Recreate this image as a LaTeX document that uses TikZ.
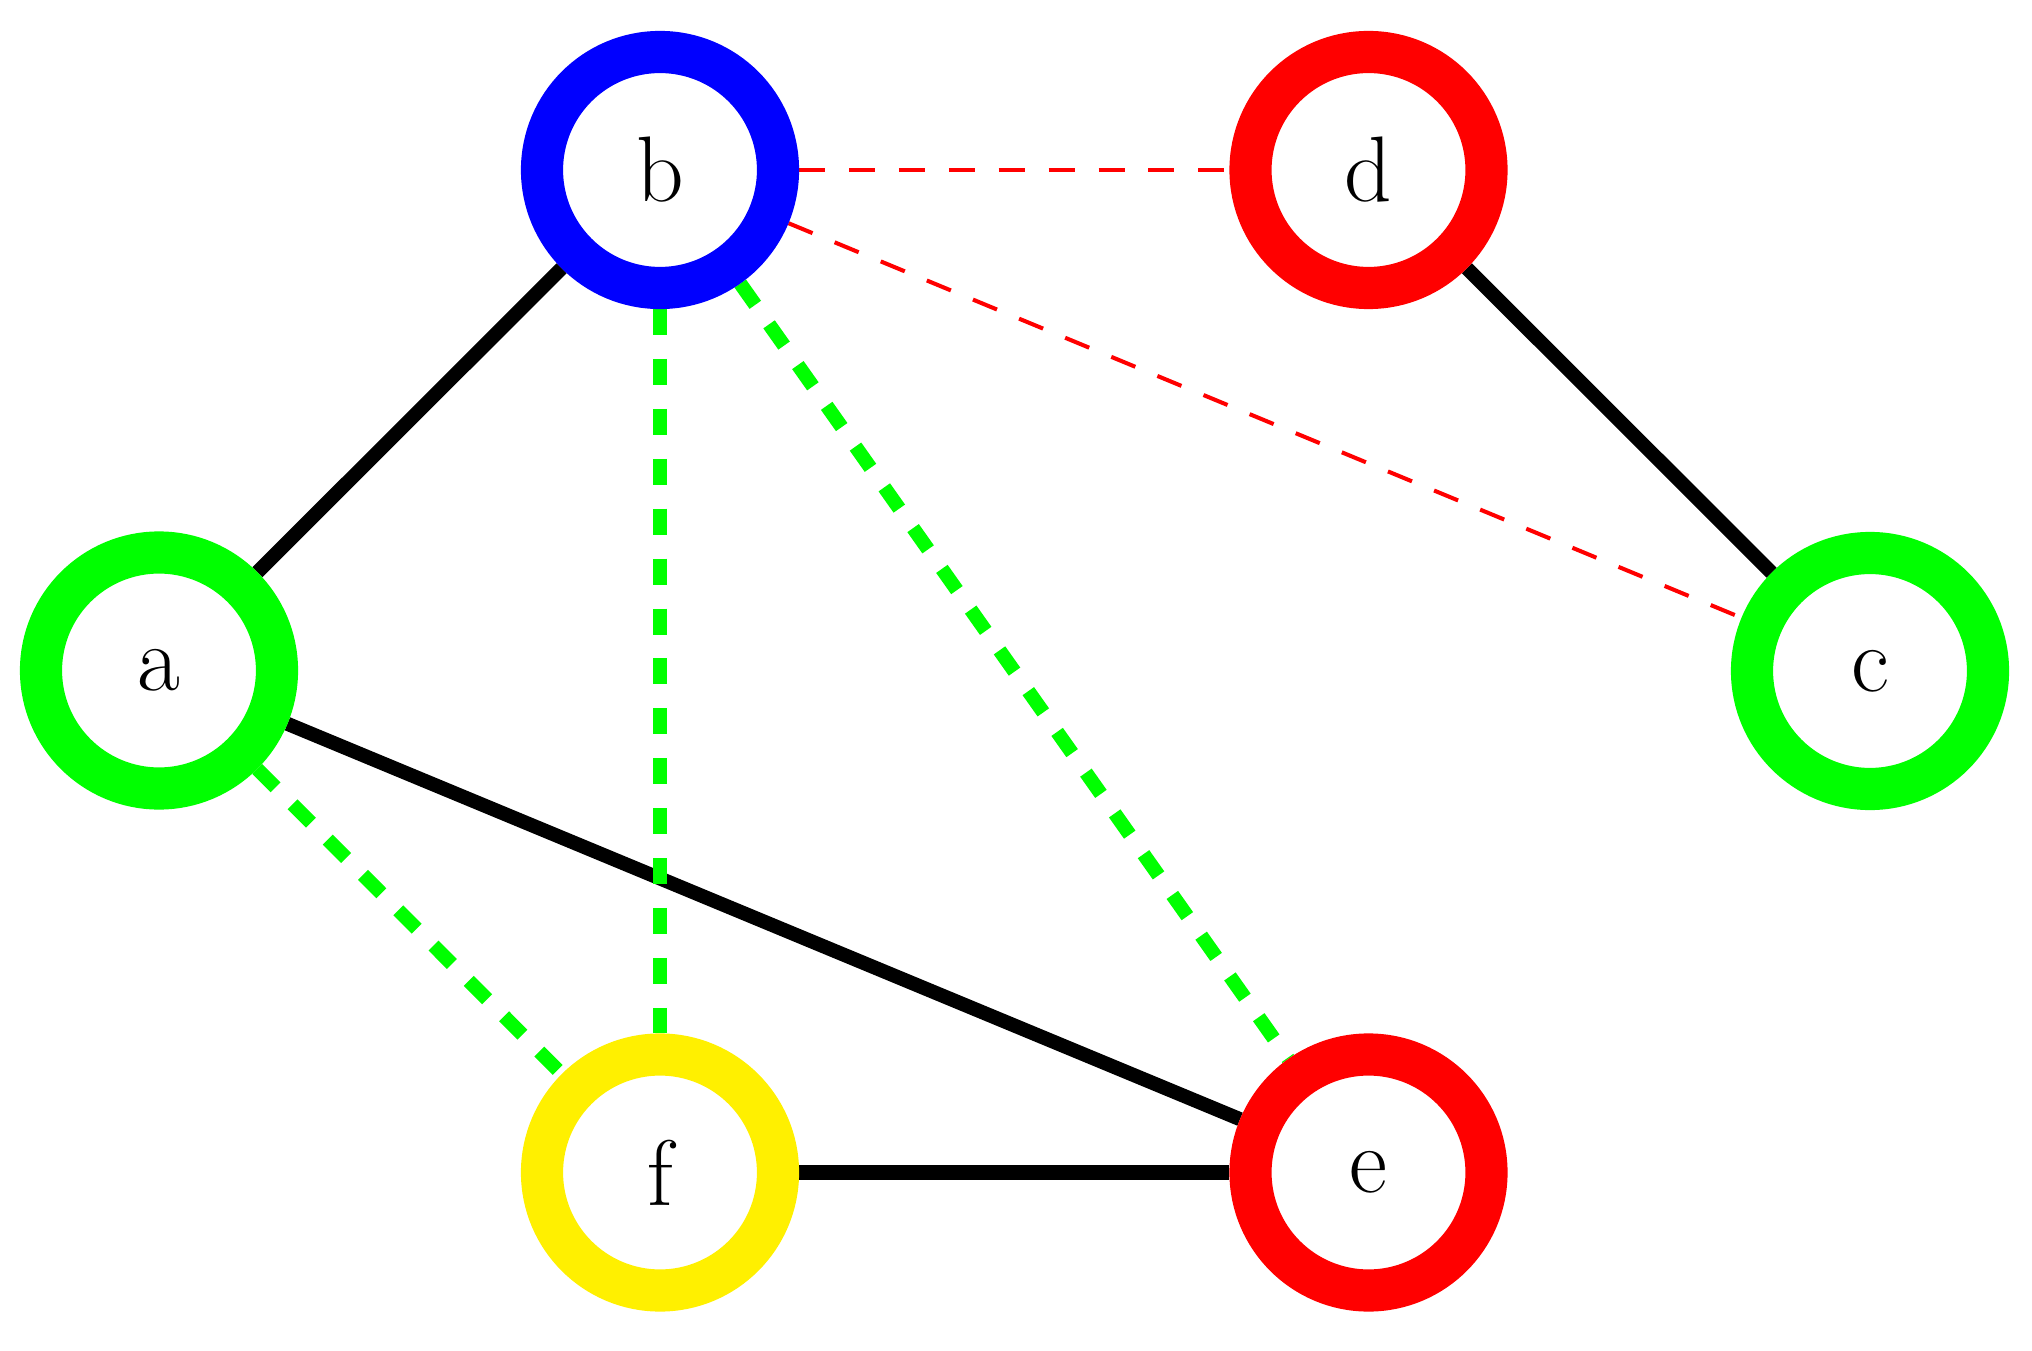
\documentclass[tikz,border=0pt]{standalone}
\usetikzlibrary{backgrounds}
\definecolor{ringblue}{RGB}{0,0,255}
\definecolor{ringred}{RGB}{255,0,0}
\definecolor{ringgreen}{RGB}{0,255,0}
\definecolor{ringyellow}{RGB}{255,240,0}
\begin{document}
\begin{tikzpicture}[
  vertex/.style={circle, draw=#1, line width=12pt, fill=white, minimum size=2.36cm, inner sep=0pt, font=\fontsize{26.5}{30}\selectfont},
  solidedge/.style={draw=black, line width=4pt},
  thinred/.style={draw=ringred, line width=1.15pt, dash pattern=on 7.4pt off 6.8pt},
  thickgreen/.style={draw=ringgreen, line width=4pt, dash pattern=on 7.4pt off 6.8pt}
]
\useasboundingbox (0,0) rectangle (20.32,13.5);
\node[vertex=ringgreen]  (a) at (1.59,6.795) {a};
\node[vertex=ringblue]   (b) at (6.60,11.80) {b};
\node[vertex=ringgreen]  (c) at (18.70,6.79) {c};
\node[vertex=ringred]    (d) at (13.685,11.80) {d};
\node[vertex=ringred]    (e) at (13.685,1.775) {e};
\node[vertex=ringyellow] (f) at (6.60,1.775) {f};
\begin{scope}[on background layer]
\draw[solidedge] (a) -- (b);
\draw[solidedge] (d) -- (c);
\draw[solidedge] (a) -- (e);
\draw[solidedge] (f) -- (e);
\draw[thinred] (b) -- (d);
\draw[thinred] (b) -- (c);
\draw[thickgreen] (b) -- (f);
\draw[thickgreen] (b) -- (e);
\draw[thickgreen] (a) -- (f);
\end{scope}
\end{tikzpicture}
\end{document}
